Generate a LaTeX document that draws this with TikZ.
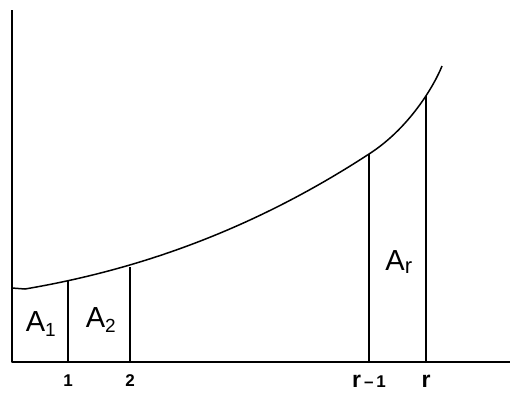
\documentclass[tikz,border=0pt]{standalone}
\usepackage{fontspec}
\setmainfont{Liberation Sans}
\begin{document}
\begin{tikzpicture}[x=1pt,y=-1pt,
  axis/.style={line width=1.8pt},
  strip/.style={line width=1.8pt},
  curve/.style={line width=1.5pt},
  area/.style={font=\fontsize{29}{31}\selectfont, inner sep=0pt},
  tick/.style={font=\bfseries\fontsize{17}{19}\selectfont, inner sep=0pt},
]
\useasboundingbox (0,0) rectangle (510,392);
% axes
\coordinate (top) at (12,10);
\coordinate (origin) at (12,362);
\coordinate (xend) at (510,362);
\draw[axis,line join=round] (top) -- (origin) -- (xend);
% curve
\coordinate (c0) at (12,288);
\coordinate (ck) at (25,289);
\coordinate (c1) at (68,281);
\coordinate (c2) at (130,267);
\coordinate (cr1) at (369,154);
\coordinate (cr) at (426,96);
\coordinate (cend) at (442,66);
\draw[curve] (c0) -- (ck)
  .. controls (140,269.5) and (254,229) .. (cr1)
  .. controls (409,128.4) and (434,86) .. (cend);
% strips
\coordinate (b1) at (68,362);
\coordinate (b2) at (130,362);
\coordinate (br1) at (369,363);
\coordinate (br) at (426,363);
\draw[strip] (b1) -- (c1);
\draw[strip] (b2) -- (c2);
\draw[strip] (br1) -- (cr1);
\draw[strip] (br) -- (cr);
% area labels
\node[area] (A1) at (41,324) {A\textsubscript{\fontsize{19}{21}\selectfont 1}};
\node[area] (A2) at (101,320) {A\textsubscript{\fontsize{19}{21}\selectfont 2}};
\node[area] (Ar) at (399,262) {A\textsubscript{\fontsize{22}{24}\selectfont r}};
% tick labels
\node[tick] (l1) at (68,381) {1};
\node[tick] (l2) at (130,381) {2};
\node[tick] (lr1) at (369,381) {{\fontsize{23}{25}\selectfont r}\,–\,1};
\node[tick] (lr) at (426,381) {\fontsize{23}{25}\selectfont r};
\end{tikzpicture}
\end{document}
